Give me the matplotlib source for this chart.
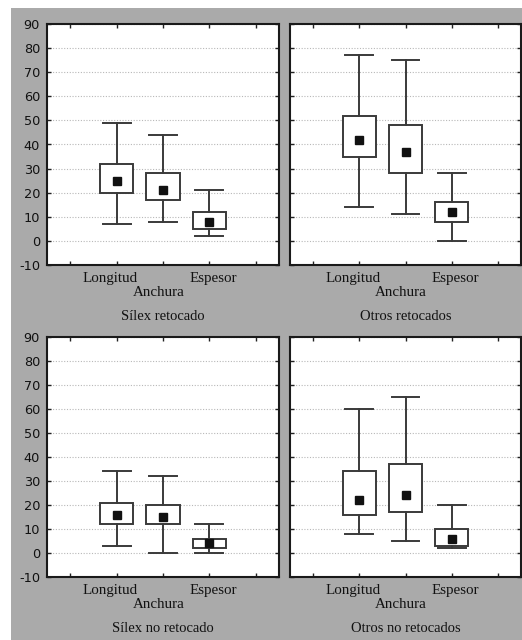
import matplotlib.pyplot as plt
from matplotlib.patches import Rectangle

plt.rcParams['axes.unicode_minus'] = False

# dimensions of the pieces (mm), one row per group: Longitud, Anchura, Espesor
groups = ["Sílex retocado", "Otros retocados", "Sílex no retocado", "Otros no retocados"]
variables = ["Longitud", "Anchura", "Espesor"]

whis_lo = [[7, 8, 2], [14, 11, 0], [3, 0, 0], [8, 5, 2]]
box_lo = [[20, 17, 5], [35, 28, 8], [12, 12, 2], [16, 17, 3]]
centre = [[25, 21, 8], [42, 37, 12], [16, 15, 4], [22, 24, 6]]
box_hi = [[32, 28, 12], [52, 48, 16], [21, 20, 6], [34, 37, 10]]
whis_hi = [[49, 44, 21], [77, 75, 28], [34, 32, 12], [60, 65, 20]]

yticks = list(range(-10, 100, 10))

W, H = 522, 640
fig = plt.figure(figsize=(W / 100, H / 100), dpi=100, facecolor='white')

# grey backdrop behind the four panels
fig.patches.append(Rectangle((11 / W, 0), 1 - 11 / W, 1 - 8 / H,
                             transform=fig.transFigure, facecolor='#aaaaaa',
                             edgecolor='none', zorder=-10))

# panel boxes in pixels: left, top, right, bottom
frames = [(47, 24, 279, 265), (290, 24, 521, 265),
          (47, 337, 279, 577), (290, 337, 521, 577)]

label_x = [0.87, 1.9, 3.08]
label_y = [-0.055, -0.115, -0.055]

for i, (l, t, r, b) in enumerate(frames):
    ax = fig.add_axes([l / W, 1 - b / H, (r - l) / W, (b - t) / H])
    ax.set_facecolor('white')

    stats = []
    for j, v in enumerate(variables):
        stats.append(dict(whislo=whis_lo[i][j], q1=box_lo[i][j], med=centre[i][j],
                          q3=box_hi[i][j], whishi=whis_hi[i][j], mean=centre[i][j],
                          fliers=[], label=v))
    ax.bxp(stats, positions=[1, 2, 3], widths=0.72, capwidths=0.6,
           showmeans=True, showfliers=False, patch_artist=True,
           boxprops=dict(facecolor='white', edgecolor='#3a3a3a', linewidth=1.4),
           whiskerprops=dict(color='#3a3a3a', linewidth=1.4),
           capprops=dict(color='#3a3a3a', linewidth=1.4),
           medianprops=dict(visible=False),
           meanprops=dict(marker='s', markersize=5.5, markerfacecolor='#111111',
                          markeredgecolor='#111111'))

    ax.set_xlim(-0.5, 4.5)
    ax.set_ylim(-10, 90)
    ax.set_xticks(range(5))
    ax.set_xticklabels([])
    ax.set_yticks(yticks)
    ax.tick_params(direction='in', length=3, width=1, color='#222222',
                   top=True, right=True, labelsize=9.3, pad=5, labelcolor='#111111')
    if i % 2 == 1:
        ax.set_yticklabels([])
    ax.yaxis.grid(True, linestyle=(0, (1, 1.5)), color='#b8b8b8', linewidth=0.8)
    ax.set_axisbelow(True)
    for s in ax.spines.values():
        s.set_linewidth(1.5)
        s.set_color('#1a1a1a')

    trans = ax.get_xaxis_transform()
    for j, v in enumerate(variables):
        ax.text(label_x[j], label_y[j], v, transform=trans, ha='center', va='center',
                family='Liberation Serif', fontsize=10.8, color='#111111')
    ax.text(2, -0.215, groups[i], transform=trans, ha='center', va='center',
            family='Liberation Serif', fontsize=10.5, color='#111111')

fig.savefig('out.png', dpi=100, facecolor=fig.get_facecolor())
